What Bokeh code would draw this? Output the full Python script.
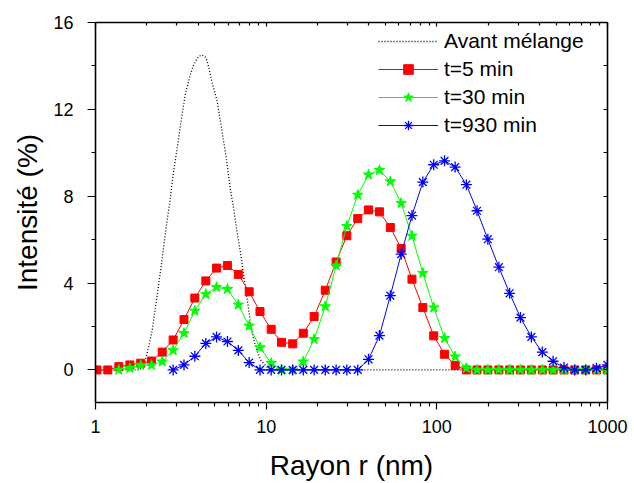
from bokeh.plotting import figure
from bokeh.models import (LogAxis, LinearAxis, FixedTicker, BasicTickFormatter,
                          Legend, LegendItem, Range1d)
from bokeh.embed import file_html
from bokeh.resources import INLINE

# Common radius grid (nm)
X = [1.02, 1.18, 1.37, 1.59, 1.84, 2.13, 2.46, 2.85, 3.30, 3.82, 4.43, 5.12,
     5.93, 6.87, 7.95, 9.20, 10.7, 12.3, 14.3, 16.5, 19.1, 22.2, 25.7, 29.7,
     34.4, 39.8, 46.1, 53.4, 61.8, 71.5, 82.8, 95.9, 111, 128, 149, 172,
     199, 231, 267, 309, 358, 415, 480, 556, 643, 745, 862, 998]

# t = 5 min (all grid points)
T5 = [0, 0, 0.15, 0.23, 0.31, 0.41, 0.82, 1.38, 2.32, 3.31, 4.10, 4.69,
      4.81, 4.40, 3.60, 2.69, 1.87, 1.27, 1.20, 1.69, 2.46, 3.67, 4.97, 6.18,
      6.97, 7.37, 7.28, 6.56, 5.59, 4.18, 2.87, 1.57, 0.72, 0.20, 0, 0,
      0, 0, 0, 0, 0, 0, 0, 0, 0, 0, 0, 0]

# t = 30 min (from the 3rd grid point)
T30 = [0, 0.08, 0.21, 0.22, 0.38, 0.90, 1.69, 2.72, 3.49, 3.81, 3.72, 3.0,
       2.03, 1.03, 0.31, 0, 0, 0.38, 1.41, 2.92, 4.80, 6.62, 8.06, 8.99,
       9.20, 8.68, 7.68, 6.17, 4.46, 2.87, 1.46, 0.61, 0.08, 0, 0, 0,
       0, 0, 0, 0, 0, 0, 0, 0, 0, 0]

# t = 930 min (from the 8th grid point)
T930 = [0, 0.23, 0.63, 1.22, 1.52, 1.31, 0.90, 0.34, 0, 0, 0, 0,
        0, 0, 0, 0, 0, 0, 0.49, 1.58, 3.42, 5.33, 7.11, 8.65,
        9.45, 9.63, 9.34, 8.53, 7.33, 6.02, 4.73, 3.53, 2.41, 1.52, 0.82, 0.40,
        0.11, 0, 0, 0.08, 0.23]

# Avant mélange (smooth dotted curve)
AV_X = [1.0, 1.82, 1.88, 1.96, 2.05, 2.15, 2.25, 2.35, 2.44, 2.54, 2.63, 2.73,
        2.85, 3.01, 3.18, 3.37, 3.49, 3.61, 3.74, 3.91, 4.05, 4.22, 4.41, 4.52,
        4.66, 4.83, 5.05, 5.21, 5.33, 5.48, 5.65, 5.84, 5.96, 6.10, 6.27, 6.47,
        6.77, 7.08, 7.40, 7.75, 8.21, 8.67, 9.27, 10.05, 10.6, 1000]
AV_Y = [0, 0, 0.15, 0.46, 1.07, 1.84, 2.93, 3.99, 4.92, 6.0, 6.91, 7.76,
        8.99, 10.21, 11.52, 12.75, 13.2, 13.65, 14.0, 14.3, 14.45, 14.5, 14.4, 14.2,
        13.75, 13.21, 12.67, 12.21, 11.67, 11.14, 10.45, 9.76, 9.22, 8.60, 7.99, 7.37,
        6.30, 5.38, 4.30, 3.23, 1.84, 1.07, 0.46, 0.15, 0, 0]

X_MAJOR = [1, 10, 100, 1000]
X_MINOR = [2, 3, 4, 5, 6, 7, 8, 9, 20, 30, 40, 50, 60, 70, 80, 90,
           200, 300, 400, 500, 600, 700, 800, 900]
Y_MAJOR = [0, 4, 8, 12, 16]
Y_MINOR = [2, 6, 10, 14]
Y_RIGHT = [0, 2, 4, 6, 8, 10, 12, 14, 16]

FONT = "Liberation Sans"

p = figure(width=634, height=483, x_axis_type="log",
           x_range=Range1d(1, 1000), y_range=Range1d(-1.5, 16),
           output_backend="svg", toolbar_location=None,
           min_border_left=95, min_border_right=27, min_border_top=22,
           min_border_bottom=81)
p.grid.visible = False
p.outline_line_color = None
p.background_fill_color = "white"

xa = p.xaxis[0]
xa.ticker = FixedTicker(ticks=X_MAJOR, minor_ticks=X_MINOR)
xa.formatter = BasicTickFormatter()
xa.axis_label = "Rayon r (nm)"
ya = p.yaxis[0]
ya.ticker = FixedTicker(ticks=Y_MAJOR, minor_ticks=Y_MINOR)
ya.axis_label = "Intensité (%)"

for ax in (xa, ya):
    ax.axis_line_width = 1.6
    ax.axis_line_color = "black"
    ax.major_tick_line_color = "black"
    ax.minor_tick_line_color = "black"
    ax.major_tick_line_width = 1.2
    ax.minor_tick_line_width = 1.2
    ax.major_tick_in = 0
    ax.minor_tick_in = 0
    ax.major_label_text_font = FONT
    ax.major_label_text_font_size = "18px"
    ax.major_label_text_color = "black"
    ax.axis_label_text_font = FONT
    ax.axis_label_text_font_size = "28px"
    ax.axis_label_text_font_style = "normal"
    ax.axis_label_text_color = "black"

xa.major_tick_out = 7
xa.minor_tick_out = 4
xa.major_label_standoff = 10
xa.axis_label_standoff = 14
ya.major_tick_out = 8
ya.minor_tick_out = 4
ya.major_label_standoff = 14
ya.axis_label_standoff = 7

top = LogAxis(ticker=FixedTicker(ticks=X_MAJOR, minor_ticks=X_MINOR))
right = LinearAxis(ticker=FixedTicker(ticks=Y_RIGHT, minor_ticks=[]))
for ax in (top, right):
    ax.axis_line_width = 1.6
    ax.axis_line_color = "black"
    ax.major_tick_out = 0
    ax.minor_tick_out = 0
    ax.major_tick_in = 4
    ax.minor_tick_in = 3
    ax.major_tick_line_width = 1.2
    ax.minor_tick_line_width = 1.2
    ax.major_label_text_font_size = "1px"
    ax.major_label_text_alpha = 0
    ax.major_label_standoff = 0
p.add_layout(top, "above")
p.add_layout(right, "right")

av = p.line(AV_X, AV_Y, line_color="black", line_width=1.3, line_dash="1 2")

r5l = p.line(X, T5, line_color="#ff0000", line_width=1)
r5m = p.scatter(X, T5, marker="square", size=8, fill_color="#ff0000",
                line_color="#ff0000")

x30 = X[2:]
r30l = p.line(x30, T30, line_color="#00ff00", line_width=1)
r30m = p.scatter(x30, T30, marker="star", size=11, fill_color="#00ff00",
                 line_color="#00ff00")

x930 = X[7:]
r930l = p.line(x930, T930, line_color="#0000ff", line_width=1)
r930m = p.scatter(x930, T930, marker="asterisk", size=11, line_color="#0000ff",
                  line_width=1.3)

legend = Legend(items=[
    LegendItem(label="Avant mélange", renderers=[av]),
    LegendItem(label="t=5 min", renderers=[r5l, r5m]),
    LegendItem(label="t=30 min", renderers=[r30l, r30m]),
    LegendItem(label="t=930 min", renderers=[r930l, r930m]),
], location=(283, 265))
legend.background_fill_alpha = 0
legend.border_line_color = None
legend.padding = 0
legend.margin = 0
legend.spacing = 4
legend.glyph_width = 60
legend.glyph_height = 24
legend.label_height = 24
legend.label_standoff = 6
legend.label_text_font = FONT
legend.label_text_font_size = "21px"
legend.label_text_color = "black"
p.add_layout(legend, "center")

open("out.html", "w").write(file_html(p, INLINE))
